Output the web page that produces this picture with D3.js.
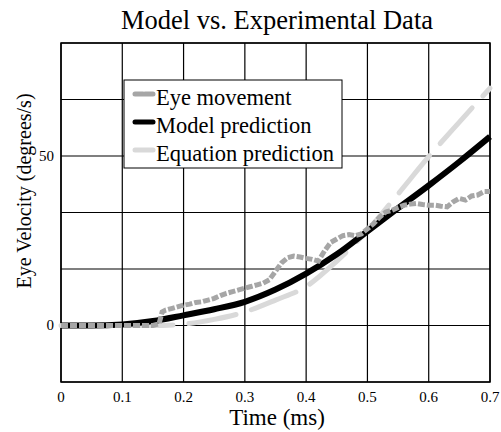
<!DOCTYPE html>
<html>
<head>
<meta charset="utf-8">
<script src="https://cdn.jsdelivr.net/npm/d3@7"></script>
<style>
  body { margin: 0; background: #fff; }
  text { font-family: "Liberation Serif", "Times New Roman", serif; fill: #000; }
</style>
</head>
<body>
<script>
// DATA
const xTicks = [0, 0.1, 0.2, 0.3, 0.4, 0.5, 0.6, 0.7];
const yGrid = [-16.667, 0, 16.667, 33.333, 50, 66.667, 83.333];
const yTickLabels = [0, 50];

const eyeTime = [0, 0.05, 0.1, 0.15, 0.16, 0.165, 0.17, 0.18, 0.19, 0.2, 0.21, 0.22, 0.23, 0.24, 0.25,
  0.26, 0.27, 0.28, 0.29, 0.3, 0.31, 0.32, 0.33, 0.34, 0.35, 0.36, 0.37, 0.38, 0.39, 0.4,
  0.41, 0.42, 0.43, 0.44, 0.45, 0.46, 0.47, 0.48, 0.49, 0.5, 0.51, 0.52, 0.53, 0.54, 0.55,
  0.56, 0.57, 0.58, 0.59, 0.6, 0.61, 0.62, 0.63, 0.64, 0.65, 0.66, 0.67, 0.68, 0.69, 0.7];
const eyeVelocity = [0, 0, 0, 0, 0.5, 4, 4.5, 5, 5.5, 6, 6.3, 6.8, 7, 7.5, 8,
  8.8, 9.5, 10, 10.5, 11, 11.5, 12, 12.5, 13.5, 16, 18.5, 20, 20.5, 20.2, 19.8,
  19.5, 19, 22, 24.5, 25.5, 26.5, 26.8, 26.5, 27, 28.5, 30, 32, 33.5, 34, 34.8,
  35.5, 35.8, 36, 35.7, 35.5, 35.5, 35.2, 35, 36.5, 37.5, 37, 38.2, 38.5, 39.5, 39.5];

const modelTime = [0, 0.05, 0.1, 0.15, 0.2, 0.25, 0.3, 0.35, 0.4, 0.45, 0.5, 0.55, 0.6, 0.65, 0.7];
const modelVelocity = [0, 0, 0.3, 1.3, 3, 4.8, 7, 10.6, 15.3, 21, 27.8, 34.6, 41.3, 48.3, 55.7];

const eqTime = [0, 0.05, 0.1, 0.15, 0.2, 0.25, 0.3, 0.35, 0.4, 0.45, 0.5, 0.55, 0.6, 0.65, 0.7];
const eqVelocity = [0, 0, 0, 0, 0.4, 1.8, 4, 7.5, 11.5, 19, 28, 38.8, 49.8, 60, 70];

const seriesNames = ['Eye movement', 'Model prediction', 'Equation prediction'];

// CONFIGURATION
const width = 501;
const height = 432;
const plotLeft = 61, plotRight = 490, plotTop = 43, plotBottom = 382;

const svg = d3.select('body')
  .append('svg')
  .attr('width', width)
  .attr('height', height);

const xScale = d3.scaleLinear().domain([0, 0.7]).range([plotLeft, plotRight]);
const yScale = d3.scaleLinear().domain([-16.667, 83.333]).range([plotBottom, plotTop]);

// GRID
svg.append('g')
  .selectAll('line')
  .data(xTicks)
  .enter()
  .append('line')
  .attr('x1', d => xScale(d))
  .attr('x2', d => xScale(d))
  .attr('y1', plotTop)
  .attr('y2', plotBottom)
  .attr('stroke', '#000')
  .attr('stroke-width', 1.2);

svg.append('g')
  .selectAll('line')
  .data(yGrid)
  .enter()
  .append('line')
  .attr('x1', plotLeft)
  .attr('x2', plotRight)
  .attr('y1', d => yScale(d))
  .attr('y2', d => yScale(d))
  .attr('stroke', '#000')
  .attr('stroke-width', 1.2);

svg.append('rect')
  .attr('x', plotLeft)
  .attr('y', plotTop)
  .attr('width', plotRight - plotLeft)
  .attr('height', plotBottom - plotTop)
  .attr('fill', 'none')
  .attr('stroke', '#000')
  .attr('stroke-width', 1.5);

// TICK LABELS
svg.append('g')
  .selectAll('text')
  .data(xTicks)
  .enter()
  .append('text')
  .attr('x', d => xScale(d))
  .attr('y', 402)
  .attr('text-anchor', 'middle')
  .style('font-size', '15px')
  .text(d => d === 0 ? '0' : d.toFixed(1));

svg.append('g')
  .selectAll('text')
  .data(yTickLabels)
  .enter()
  .append('text')
  .attr('x', 54)
  .attr('y', d => yScale(d) + 5)
  .attr('text-anchor', 'end')
  .style('font-size', '15px')
  .text(d => d);

// LINES
const line = d3.line()
  .x(d => xScale(d[0]))
  .y(d => yScale(d[1]));
const smoothLine = d3.line()
  .curve(d3.curveMonotoneX)
  .x(d => xScale(d[0]))
  .y(d => yScale(d[1]));

svg.append('path')
  .datum(eqTime.map((t, i) => [t, eqVelocity[i]]))
  .attr('d', smoothLine)
  .attr('fill', 'none')
  .attr('stroke', '#d9d9d9')
  .attr('stroke-width', 5)
  .attr('stroke-linecap', 'round')
  .attr('stroke-dasharray', '48,16');

svg.append('path')
  .datum(modelTime.map((t, i) => [t, modelVelocity[i]]))
  .attr('d', smoothLine)
  .attr('fill', 'none')
  .attr('stroke', '#000')
  .attr('stroke-width', 6);

svg.append('path')
  .datum(eyeTime.map((t, i) => [t, eyeVelocity[i]]))
  .attr('d', line)
  .attr('fill', 'none')
  .attr('stroke', '#a6a6a6')
  .attr('stroke-width', 5)
  .attr('stroke-dasharray', '7,2');

// LEGEND
const legend = svg.append('g');
legend.append('rect')
  .attr('x', 124)
  .attr('y', 80)
  .attr('width', 218)
  .attr('height', 88)
  .attr('fill', '#fff')
  .attr('stroke', '#000')
  .attr('stroke-width', 1);

const legendStyles = [
  { color: '#a6a6a6', width: 5, dash: '8,2' },
  { color: '#000', width: 5, dash: null },
  { color: '#d9d9d9', width: 5, dash: null }
];

seriesNames.forEach((name, i) => {
  const y = 94 + i * 28;
  legend.append('line')
    .attr('x1', 135)
    .attr('x2', 153)
    .attr('y1', y)
    .attr('y2', y)
    .attr('stroke', legendStyles[i].color)
    .attr('stroke-width', legendStyles[i].width)
    .attr('stroke-linecap', 'round')
    .attr('stroke-dasharray', legendStyles[i].dash);
  legend.append('text')
    .attr('x', 156)
    .attr('y', y + 11)
    .style('font-size', '22.5px')
    .text(name);
});

// TITLES
svg.append('text')
  .attr('x', 277)
  .attr('y', 29)
  .attr('text-anchor', 'middle')
  .style('font-size', '26.5px')
  .text('Model vs. Experimental Data');

svg.append('text')
  .attr('x', 277)
  .attr('y', 425)
  .attr('text-anchor', 'middle')
  .style('font-size', '23px')
  .text('Time (ms)');

svg.append('text')
  .attr('transform', 'translate(31, 191) rotate(-90)')
  .attr('text-anchor', 'middle')
  .style('font-size', '20px')
  .text('Eye Velocity (degrees/s)');
</script>
</body>
</html>
